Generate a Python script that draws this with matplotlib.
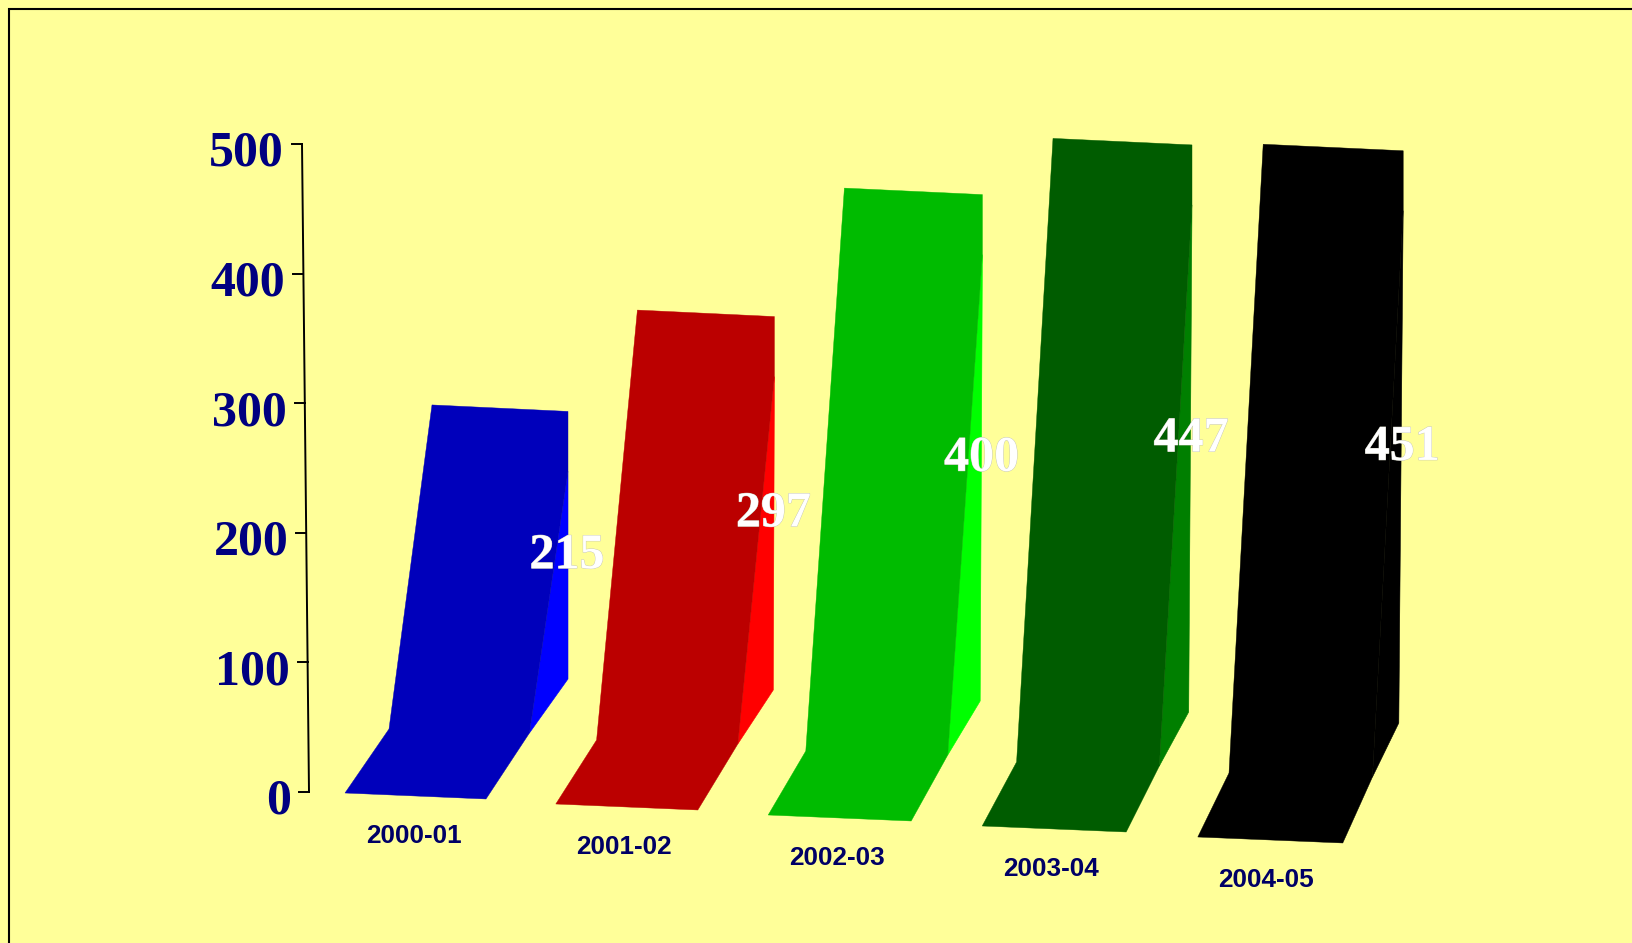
import matplotlib
matplotlib.use("Agg")
import matplotlib.pyplot as plt
import matplotlib.patheffects as pe
from matplotlib.patches import Polygon

# data
categories = ["2000-01", "2001-02", "2002-03", "2003-04", "2004-05"]
values = [215, 297, 400, 447, 451]
ticks = [0, 100, 200, 300, 400, 500]

# colours
front_colors = ["#0000BB", "#BB0000", "#00BB00", "#005C00", "#000000"]
side_colors = ["#0000FF", "#FF0000", "#00FF00", "#007F00", "#000000"]
bg = "#FFFF99"
navy = "#000066"
label_navy = "#000080"

AXIS_SCALE = 1.296  # px per unit on the axis
BAR_SCALE = 1.291  # px per unit on the bars


def axis_pt(v):
    """ Position on the slightly tilted value axis """
    return 309 - 7 * v / 500, 792 - AXIS_SCALE * v


def bar_shape(i, v):
    """ Corners of the projected bar number i with value v """
    fl = (345 + 210 * i + 0.8 * i * i, 793 + 11 * i)  # front left
    fr = (fl[0] + 141 + i, fl[1] + 6)  # front right
    bl = (fl[0] + 44 - 3.2 * i, fl[1] - 64)  # back left, on the floor
    top_l = (bl[0] + 43 - 2.2 * i, bl[1] - 46.5 - BAR_SCALE * v)
    top_r = (top_l[0] + 136 + i, top_l[1] + 6.5)
    side_b = (fr[0] + 82 - 6.5 * i, fr[1] - 120)  # bottom of the bright side
    kink = (fr[0] + 0.53 * (side_b[0] - fr[0]), fr[1] + 0.55 * (side_b[1] - fr[1]))
    side_t = (top_r[0], top_r[1] + 60)
    return fl, fr, bl, top_l, top_r, side_b, kink, side_t


fig = plt.figure(figsize=(16.32, 9.43), dpi=100, facecolor=bg)
ax = fig.add_axes([0, 0, 1, 1])
ax.set_xlim(0, 1632)
ax.set_ylim(943, 0)
ax.axis("off")

# frame, only left and top are in the picture
ax.plot([9, 9, 1632], [943, 9.3, 9.3], color="black", lw=1.5, solid_joinstyle="miter")

# value axis
ax.plot([axis_pt(0)[0], axis_pt(500)[0]], [axis_pt(0)[1], axis_pt(500)[1]], color="black", lw=1.4)
for t in ticks:
    x, y = axis_pt(t)
    ax.plot([x - 10, x], [y, y], color="black", lw=1.4)
    ax.text(x - 18, y + 10, str(t), family="Liberation Serif", weight="bold", fontsize=36,
            color=label_navy, ha="right", va="center")

# bars
for i, (cat, v) in enumerate(zip(categories, values)):
    fl, fr, bl, top_l, top_r, side_b, kink, side_t = bar_shape(i, v)
    ax.add_patch(Polygon([kink, side_b, side_t], closed=True, fc=side_colors[i], ec=side_colors[i], lw=0.4))
    ax.add_patch(Polygon([fl, fr, kink, side_t, top_r, top_l, bl], closed=True,
                         fc=front_colors[i], ec=front_colors[i], lw=0.3))
    ax.text(fl[0] + 68.5, fl[1] + 43, cat, family="Liberation Sans", weight="bold", fontsize=18.8,
            color=navy, ha="center", va="center")
    ax.text(top_r[0] - 1, (top_r[1] + side_b[1]) / 2 + 11, str(v), family="Liberation Serif",
            weight="bold", fontsize=36, color="white", ha="center", va="center",
            path_effects=[pe.withStroke(linewidth=0.6, foreground="#c4c4b4")])

fig.savefig("out.png", dpi=100, facecolor=bg)
